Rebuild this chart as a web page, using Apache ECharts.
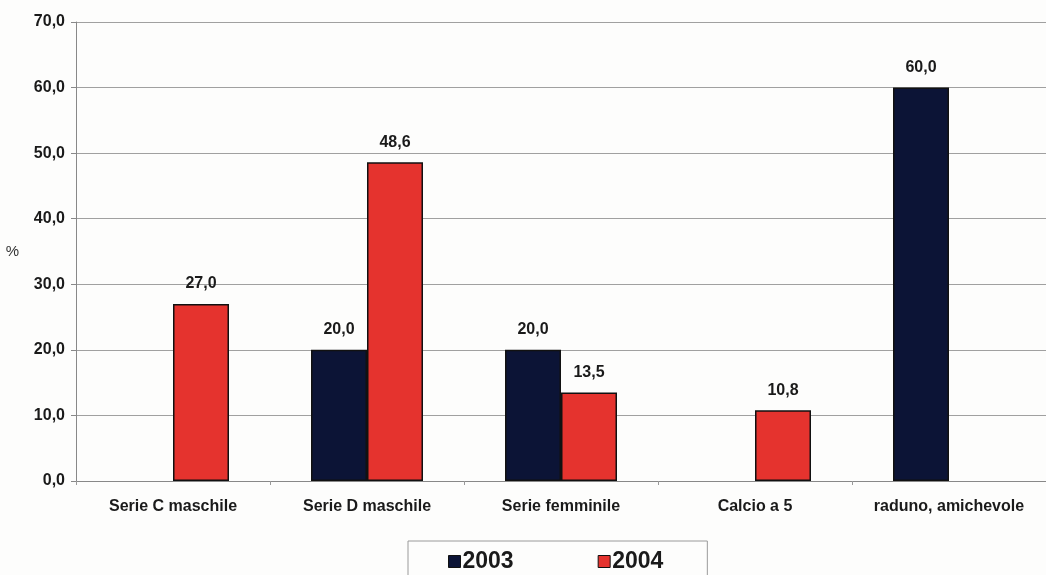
<!DOCTYPE html>
<html>
<head>
<meta charset="utf-8">
<script src="https://cdn.jsdelivr.net/npm/echarts@6/dist/echarts.min.js"></script>
<style>
  html, body { margin: 0; padding: 0; background: #fdfdfc; }
  #chart { width: 1046px; height: 575px; }
</style>
</head>
<body>
<div id="chart"></div>
<script>
// Categorie e percentuali per anno
const categories = ['Serie C maschile', 'Serie D maschile', 'Serie femminile', 'Calcio a 5', 'raduno, amichevole'];
const values2003 = [null, 20.0, 20.0, null, 60.0];
const values2004 = [27.0, 48.6, 13.5, 10.8, null];
const seriesNames = ['2003', '2004'];

const fmt = v => v.toFixed(1).replace('.', ',');
const FONT = 'Liberation Sans, Arial, sans-serif';

const chart = echarts.init(document.getElementById('chart'));

const barStyle = (color) => ({
  color: color,
  borderColor: '#111',
  borderWidth: 1.5
});

const labelCfg = {
  show: true,
  position: 'top',
  distance: 12,
  fontFamily: FONT,
  fontWeight: 'bold',
  fontSize: 16,
  color: '#1a1a1a',
  formatter: p => (p.value == null ? '' : fmt(p.value))
};

chart.setOption({
  backgroundColor: '#fdfdfc',
  animation: false,
  grid: { left: 76, right: -9, top: 22, bottom: 94, containLabel: false },
  legend: {
    data: seriesNames,
    left: 408,
    top: 541,
    orient: 'horizontal',
    icon: 'rect',
    itemWidth: 12,
    itemHeight: 12,
    itemGap: 84,
    padding: [9, 44, 20, 40],
    borderColor: '#9a9a9a',
    borderWidth: 1,
    borderRadius: 0,
    backgroundColor: '#fdfdfc',
    itemStyle: { borderColor: '#111', borderWidth: 1 },
    textStyle: { fontFamily: FONT, fontWeight: 'bold', fontSize: 23, color: '#1a1a1a', padding: [0, 0, 0, -3] }
  },
  xAxis: {
    type: 'category',
    data: categories,
    axisLine: { lineStyle: { color: '#888', width: 1 } },
    axisTick: { show: true, interval: 0, length: 4, lineStyle: { color: '#999' } },
    axisLabel: {
      interval: 0,
      hideOverlap: false,
      fontFamily: FONT, fontWeight: 'bold', fontSize: 16, color: '#1a1a1a', margin: 18
    }
  },
  yAxis: {
    type: 'value',
    min: 0,
    max: 70,
    interval: 10,
    name: '%',
    nameLocation: 'middle',
    nameRotate: 0,
    nameGap: 57,
    nameTextStyle: { fontFamily: FONT, fontSize: 15, color: '#333' },
    axisLine: { show: true, lineStyle: { color: '#888', width: 1 } },
    axisTick: { show: true, length: 5, lineStyle: { color: '#888' } },
    splitLine: { lineStyle: { color: '#a0a0a0', width: 1 } },
    axisLabel: {
      fontFamily: FONT, fontWeight: 'bold', fontSize: 16, color: '#1a1a1a', margin: 11,
      formatter: v => fmt(v)
    }
  },
  series: [
    {
      name: seriesNames[0],
      type: 'bar',
      data: values2003,
      barWidth: 56,
      barGap: '0%',
      itemStyle: barStyle('#0c1436'),
      label: labelCfg
    },
    {
      name: seriesNames[1],
      type: 'bar',
      data: values2004,
      barWidth: 56,
      barGap: '0%',
      itemStyle: barStyle('#e5332e'),
      label: labelCfg
    }
  ]
});
</script>
</body>
</html>
